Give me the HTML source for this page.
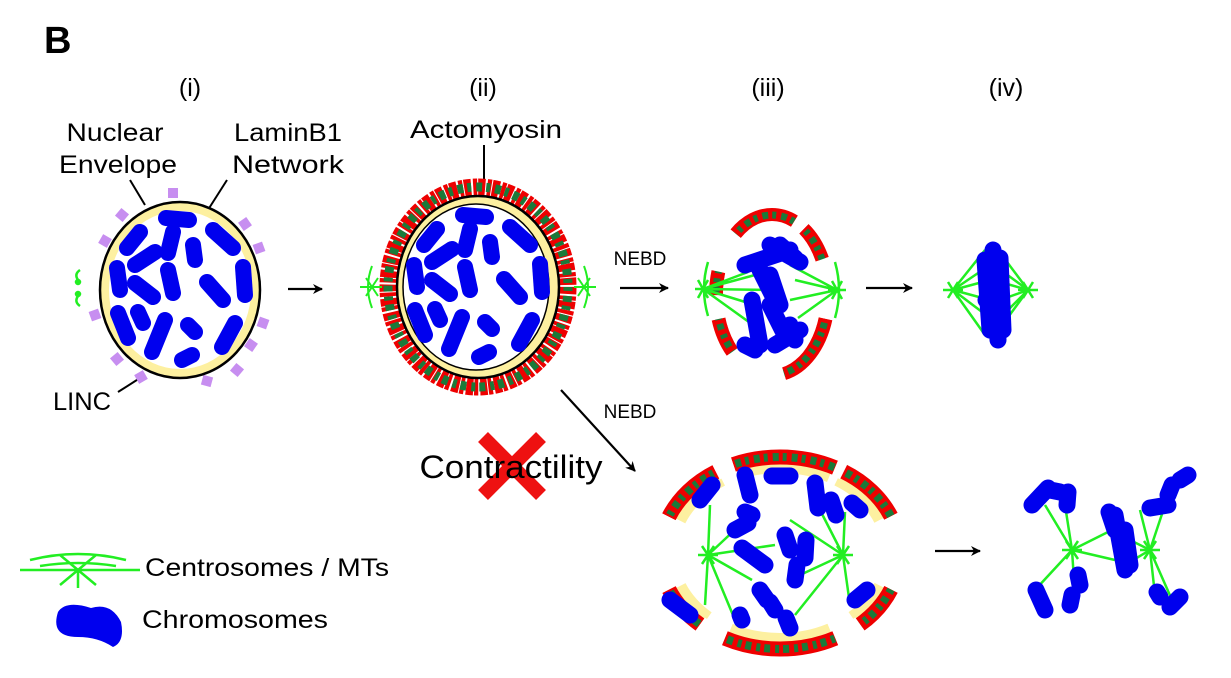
<!DOCTYPE html>
<html><head><meta charset="utf-8"><style>
html,body{margin:0;padding:0;background:#fff;}
svg{display:block;font-family:"Liberation Sans","DejaVu Sans",sans-serif;}
</style></head><body>
<svg width="1231" height="678" viewBox="0 0 1231 678" xmlns="http://www.w3.org/2000/svg">
<defs>
<marker id="ah" markerWidth="10" markerHeight="10" refX="9" refY="5" orient="auto" markerUnits="userSpaceOnUse">
<path d="M0,0 L10,5 L0,10 L3,5 Z" fill="#000"/></marker>
<g id="chromsI" stroke="#0000ee" stroke-width="16" stroke-linecap="round" fill="none">
<path d="M166,218 L189,220"/><path d="M140,232 L127,248"/><path d="M173,232 L168,253"/>
<path d="M213,230 L233,248"/><path d="M155,252 L135,265"/><path d="M193,245 L195,260"/>
<path d="M243,267 L245,295"/><path d="M117,268 L120,290"/><path d="M168,270 L173,293"/>
<path d="M135,283 L153,297"/><path d="M207,282 L223,300"/><path d="M118,313 L128,338"/>
<path d="M138,312 L143,323"/><path d="M165,320 L152,352"/><path d="M188,325 L195,332"/>
<path d="M235,323 L222,347"/><path d="M192,355 L182,360"/>
</g>
</defs>

<text x="44" y="53" font-size="38" font-weight="bold">B</text>
<g font-size="25" text-anchor="middle" lengthAdjust="spacingAndGlyphs">
<text x="190" y="96">(i)</text><text x="483" y="96">(ii)</text>
<text x="768" y="96">(iii)</text><text x="1006" y="96">(iv)</text>
<text x="115" y="141" textLength="97" lengthAdjust="spacingAndGlyphs">Nuclear</text><text x="118" y="173" textLength="118" lengthAdjust="spacingAndGlyphs">Envelope</text>
<text x="288" y="141" textLength="108" lengthAdjust="spacingAndGlyphs">LaminB1</text><text x="288" y="173" textLength="112" lengthAdjust="spacingAndGlyphs">Network</text>
<text x="486" y="138" textLength="152" lengthAdjust="spacingAndGlyphs">Actomyosin</text>
<text x="82" y="410" textLength="58" lengthAdjust="spacingAndGlyphs">LINC</text>
</g>
<g stroke="#000" stroke-width="2">
<line x1="130" y1="180" x2="145" y2="205"/><line x1="227" y1="180" x2="206" y2="213"/>
<line x1="484" y1="145" x2="484" y2="190"/><line x1="118" y1="392" x2="140" y2="378"/>
</g>

<!-- Cell i -->
<g fill="#c78ef0">
<rect x="168" y="188" width="10" height="10"/><rect x="117" y="210" width="10" height="10" transform="rotate(40 122 215)"/>
<rect x="100" y="236" width="10" height="10" transform="rotate(30 105 241)"/>
<rect x="240" y="219" width="10" height="10" transform="rotate(-35 245 224)"/><rect x="254" y="243" width="10" height="10" transform="rotate(-20 259 248)"/>
<rect x="90" y="310" width="10" height="10" transform="rotate(-20 95 315)"/><rect x="258" y="318" width="10" height="10" transform="rotate(20 263 323)"/>
<rect x="246" y="340" width="10" height="10" transform="rotate(35 251 345)"/><rect x="112" y="354" width="10" height="10" transform="rotate(-40 117 359)"/>
<rect x="232" y="365" width="10" height="10" transform="rotate(40 237 370)"/><rect x="136" y="372" width="10" height="10" transform="rotate(-30 141 377)"/>
<rect x="202" y="376" width="10" height="10" transform="rotate(15 207 381)"/>
</g>
<ellipse cx="180" cy="290" rx="80" ry="88" fill="#fdf0a0" stroke="#000" stroke-width="2.5"/>
<ellipse cx="180" cy="290" rx="71" ry="79" fill="#fff"/>
<use href="#chromsI"/>
<g stroke="#22ee22" stroke-width="2.5" fill="none">
<path d="M80,270 q-6,4 -2,10"/><path d="M80,306 q-6,-4 -2,-10"/><circle cx="78" cy="282" r="2" fill="#22ee22"/><circle cx="78" cy="294" r="2" fill="#22ee22"/>
</g>

<g stroke="#000" stroke-width="2.2" marker-end="url(#ah)">
<line x1="288" y1="289" x2="322" y2="289"/><line x1="620" y1="288" x2="668" y2="288"/>
<line x1="866" y1="288" x2="912" y2="288"/><line x1="561" y1="390" x2="635" y2="471"/>
<line x1="935" y1="551" x2="980" y2="551"/>
</g>
<text x="640" y="265" font-size="19" text-anchor="middle">NEBD</text>
<text x="630" y="418" font-size="19" text-anchor="middle">NEBD</text>

<!-- Cell ii -->
<ellipse cx="478" cy="287" rx="90" ry="100" fill="none" stroke="#e00" stroke-width="17" stroke-dasharray="7 2 4 1"/>
<ellipse cx="478" cy="287" rx="90" ry="100" fill="none" stroke="#1a7a3a" stroke-width="9" stroke-dasharray="4 5 6 4"/>
<ellipse cx="478" cy="287" rx="81" ry="91" fill="#fdf0a0" stroke="#000" stroke-width="2.5"/>
<ellipse cx="476" cy="287" rx="73" ry="83" fill="#fff" stroke="#000" stroke-width="1.5"/>
<use href="#chromsI" transform="translate(297,-3)"/>
<g stroke="#22ee22" stroke-width="2" fill="none">
<path d="M360,287 h22 M366,278 l12,18 M366,296 l12,-18 M372,266 q-8,21 0,42"/>
<path d="M574,287 h22 M578,278 l12,18 M578,296 l12,-18 M584,266 q8,21 0,42"/>
</g>

<g stroke="#ee1111" stroke-width="14"><line x1="483" y1="437" x2="541" y2="495"/><line x1="541" y1="437" x2="483" y2="495"/></g>
<text x="511" y="478" font-size="32" text-anchor="middle" textLength="183" lengthAdjust="spacingAndGlyphs">Contractility</text>

<!-- Cell iii -->
<g fill="none">
<ellipse cx="772" cy="295" rx="48" ry="74" stroke="#fdf0a0" stroke-width="8" pathLength="360" stroke-dasharray="0 20 60 50 30 20 20 35 55 10 30 30"/>
<ellipse cx="772" cy="295" rx="56" ry="80" stroke="#e00" stroke-width="14" pathLength="360" stroke-dasharray="0 20 60 50 30 20 20 35 55 10 30 30"/>
<ellipse cx="772" cy="295" rx="56" ry="80" stroke="#1a7a3a" stroke-width="7" stroke-dasharray="4 5 6 4"/>
</g>
<ellipse cx="772" cy="295" rx="49" ry="74" fill="#fff"/>
<ellipse cx="772" cy="295" rx="56" ry="80" fill="none" stroke="#fff" stroke-width="16" pathLength="360" stroke-dasharray="20 60 50 30 20 20 35 55 10 30 30 0"/>
<g stroke="#22ee22" stroke-width="2.5" fill="none">
<path d="M703,289 L755,275 M703,289 L770,290 M703,289 L755,305 M703,289 L760,330 M703,289 L748,272"/>
<path d="M837,290 L790,265 M837,290 L795,280 M837,290 L790,300 M837,290 L798,318"/>
<path d="M695,289 h18 M698,280 l10,18 M698,298 l10,-18 M708,262 q-8,27 0,54"/>
<path d="M828,290 h18 M832,281 l10,18 M832,299 l10,-18 M835,262 q8,28 0,56"/>
</g>
<g stroke="#0000ee" stroke-width="17" stroke-linecap="round" fill="none">
<path d="M745,265 L790,250 M770,245 L800,262 M780,245 L795,258 M760,270 L775,300 M770,275 L780,305 M752,300 L760,345 M770,305 L785,335 M745,345 L755,350 M775,345 L800,330 M790,325 L795,340"/>
</g>

<!-- Cell iv -->
<g stroke="#22ee22" stroke-width="2.5" fill="none">
<path d="M953,290 L985,250 M953,290 L990,265 M953,290 L990,280 M953,290 L990,300 M953,290 L990,318 M953,290 L985,335"/>
<path d="M1028,290 L998,250 M1028,290 L998,268 M1028,290 L1000,282 M1028,290 L1000,300 M1028,290 L998,320 M1028,290 L995,335"/>
<path d="M943,290 h20 M948,282 l10,16 M948,298 l10,-16 M1018,290 h20 M1023,282 l10,16 M1023,298 l10,-16"/>
</g>
<g stroke="#0000ee" stroke-width="17" stroke-linecap="round">
<path d="M993,250 L998,340 M985,260 L990,330 M1000,258 L1003,330 M986,300 L1000,312"/>
</g>

<!-- Bottom cell -->
<g fill="none">
<ellipse cx="780" cy="553" rx="108" ry="86" stroke="#fdf0a0" stroke-width="12" pathLength="360" stroke-dasharray="0 20 25 15 60 15 25 40 35 10 55 5 35 20"/>
<ellipse cx="780" cy="553" rx="120" ry="96" stroke="#e00" stroke-width="15" pathLength="360" stroke-dasharray="0 20 25 15 60 15 25 40 35 10 55 5 35 20"/>
<ellipse cx="780" cy="553" rx="120" ry="96" stroke="#1a7a3a" stroke-width="8" stroke-dasharray="4 5 6 4"/>
<ellipse cx="780" cy="553" rx="120" ry="96" stroke="#fff" stroke-width="17" pathLength="360" stroke-dasharray="20 25 15 60 15 25 40 35 10 55 5 35 20 0"/>
</g>
<g stroke="#22ee22" stroke-width="2.5" fill="none">
<path d="M708,555 L710,505 M708,555 L740,525 M708,555 L775,545 M708,555 L752,580 M708,555 L705,605 M708,555 L735,620"/>
<path d="M843,555 L820,510 M843,555 L790,520 M843,555 L800,575 M843,555 L795,615 M843,555 L850,605 M843,555 L845,512"/>
<path d="M698,555 h20 M702,546 l12,18 M702,564 l12,-18 M833,555 h20 M837,546 l12,18 M837,564 l12,-18"/>
</g>
<g stroke="#0000ee" stroke-width="17" stroke-linecap="round" fill="none">
<path d="M700,500 L712,485 M745,475 L750,495 M772,476 L790,476 M815,483 L818,508 M745,512 L752,515 M735,530 L748,523 M742,548 L765,565 M785,535 L790,550 M806,540 L805,558 M797,565 L795,580 M760,590 L767,600 M770,602 L775,610 M670,600 L690,615 M740,615 L742,620 M786,618 L790,628 M855,600 L867,590 M852,503 L860,510 M831,500 L836,515"/>
</g>

<!-- Bottom iv -->
<g stroke="#22ee22" stroke-width="2.5" fill="none">
<path d="M1072,550 L1045,505 M1072,550 L1065,505 M1072,550 L1112,530 M1072,550 L1115,560 M1072,550 L1035,590 M1072,550 L1075,595"/>
<path d="M1150,550 L1165,505 M1150,550 L1140,510 M1150,550 L1120,535 M1150,550 L1125,565 M1150,550 L1155,595 M1150,550 L1172,600"/>
<path d="M1062,550 h20 M1066,541 l12,18 M1066,559 l12,-18 M1140,550 h20 M1144,541 l12,18 M1144,559 l12,-18"/>
</g>
<g stroke="#0000ee" stroke-width="17" stroke-linecap="round" fill="none">
<path d="M1032,505 L1048,488 M1050,490 L1060,492 M1068,492 L1067,505 M1109,512 L1115,530 M1115,515 L1125,570 M1125,530 L1130,565 M1150,508 L1168,505 M1180,480 L1188,475 M1172,485 L1168,495 M1036,590 L1045,610 M1078,575 L1080,585 M1072,595 L1070,605 M1157,592 L1160,597 M1170,607 L1180,597"/>
</g>

<!-- Legend -->
<g stroke="#22ee22" stroke-width="2.5" fill="none">
<path d="M20,570 h120 M78,570 L60,585 M78,570 L96,585 M78,570 L60,555 M78,570 L96,555 M78,570 v18 M30,560 q48,-12 96,0 M40,566 q38,-6 76,0"/>
</g>
<path d="M58,612 q-8,25 20,25 q20,0 35,10 q12,-5 8,-25 q-10,-20 -30,-14 q-25,-8 -33,4 Z" fill="#0000ee"/>
<text x="145" y="576" font-size="25" textLength="244" lengthAdjust="spacingAndGlyphs">Centrosomes / MTs</text>
<text x="142" y="628" font-size="25" textLength="186" lengthAdjust="spacingAndGlyphs">Chromosomes</text>
</svg>
</body></html>
